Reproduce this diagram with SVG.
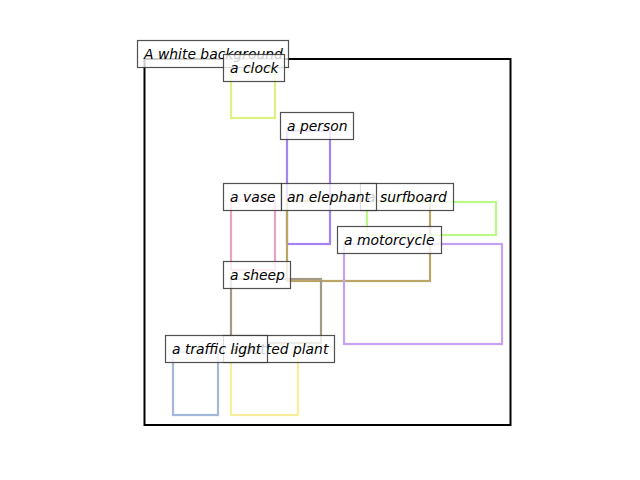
<svg xmlns="http://www.w3.org/2000/svg" width="640" height="480" viewBox="0 0 640 480">
<style>
.bx{fill:none;stroke-width:2.2}
.lb rect{fill:#fff;fill-opacity:0.8;stroke:#333;stroke-opacity:0.85;stroke-width:1.2}
.lb text{font-family:"DejaVu Sans",sans-serif;font-style:italic;font-size:13.9px;fill:#000}
</style>
<rect width="640" height="480" fill="#fff"/>
<g id="frame"><rect x="144.5" y="59" width="366" height="366" fill="none" stroke="#000" stroke-width="2"/></g>
<g id="boxes">
<rect id="box-clock" class="bx" x="231" y="72" width="44" height="46" stroke="#dcf283"/>
<rect id="box-person" class="bx" x="287" y="131" width="43" height="113" stroke="#a484ee"/>
<rect id="box-vase" class="bx" x="231" y="200" width="44" height="70" stroke="#eaa2c0"/>
<rect id="box-elephant" class="bx" x="287" y="201" width="143" height="80" stroke="#bba666"/>
<rect id="box-surfboard" class="bx" x="367" y="202" width="129" height="33" stroke="#bcf886"/>
<rect id="box-motorcycle" class="bx" x="344" y="244" width="158" height="100" stroke="#c3a2f4"/>
<rect id="box-sheep" class="bx" x="231" y="279" width="90" height="64" stroke="#a29a84"/>
<rect id="box-trafficlight" class="bx" x="173" y="352" width="45" height="63" stroke="#a6b8da"/>
<rect id="box-pottedplant" class="bx" x="231" y="352" width="67" height="63" stroke="#f9ee9c"/>
</g>
<g id="label-background" class="lb"><rect x="137.5" y="40.5" width="151" height="27"/><text x="144" y="59">A white background</text></g>
<g id="label-clock" class="lb"><rect x="223.5" y="54.5" width="61" height="27"/><text x="230" y="73">a clock</text></g>
<g id="label-person" class="lb"><rect x="280.5" y="112.5" width="73" height="27"/><text x="287" y="131">a person</text></g>
<g id="label-vase" class="lb"><rect x="223.5" y="183.5" width="58" height="27"/><text x="230" y="202">a vase</text></g>
<g id="label-surfboard" class="lb"><rect x="360.5" y="183.5" width="93" height="27"/><text x="367" y="202">a surfboard</text></g>
<g id="label-elephant" class="lb"><rect x="281.5" y="183.5" width="95" height="27"/><text x="287" y="202">an elephant</text></g>
<g id="label-motorcycle" class="lb"><rect x="337.5" y="226.5" width="104" height="27"/><text x="344" y="245">a motorcycle</text></g>
<g id="label-sheep" class="lb"><rect x="223.5" y="261.5" width="67" height="27"/><text x="230" y="280">a sheep</text></g>
<g id="label-pottedplant" class="lb"><rect x="223.5" y="335.5" width="111" height="27"/><text x="230" y="354">a potted plant</text></g>
<g id="label-trafficlight" class="lb"><rect x="165.5" y="335.5" width="102" height="27"/><text x="172" y="354">a traffic light</text></g>
</svg>
